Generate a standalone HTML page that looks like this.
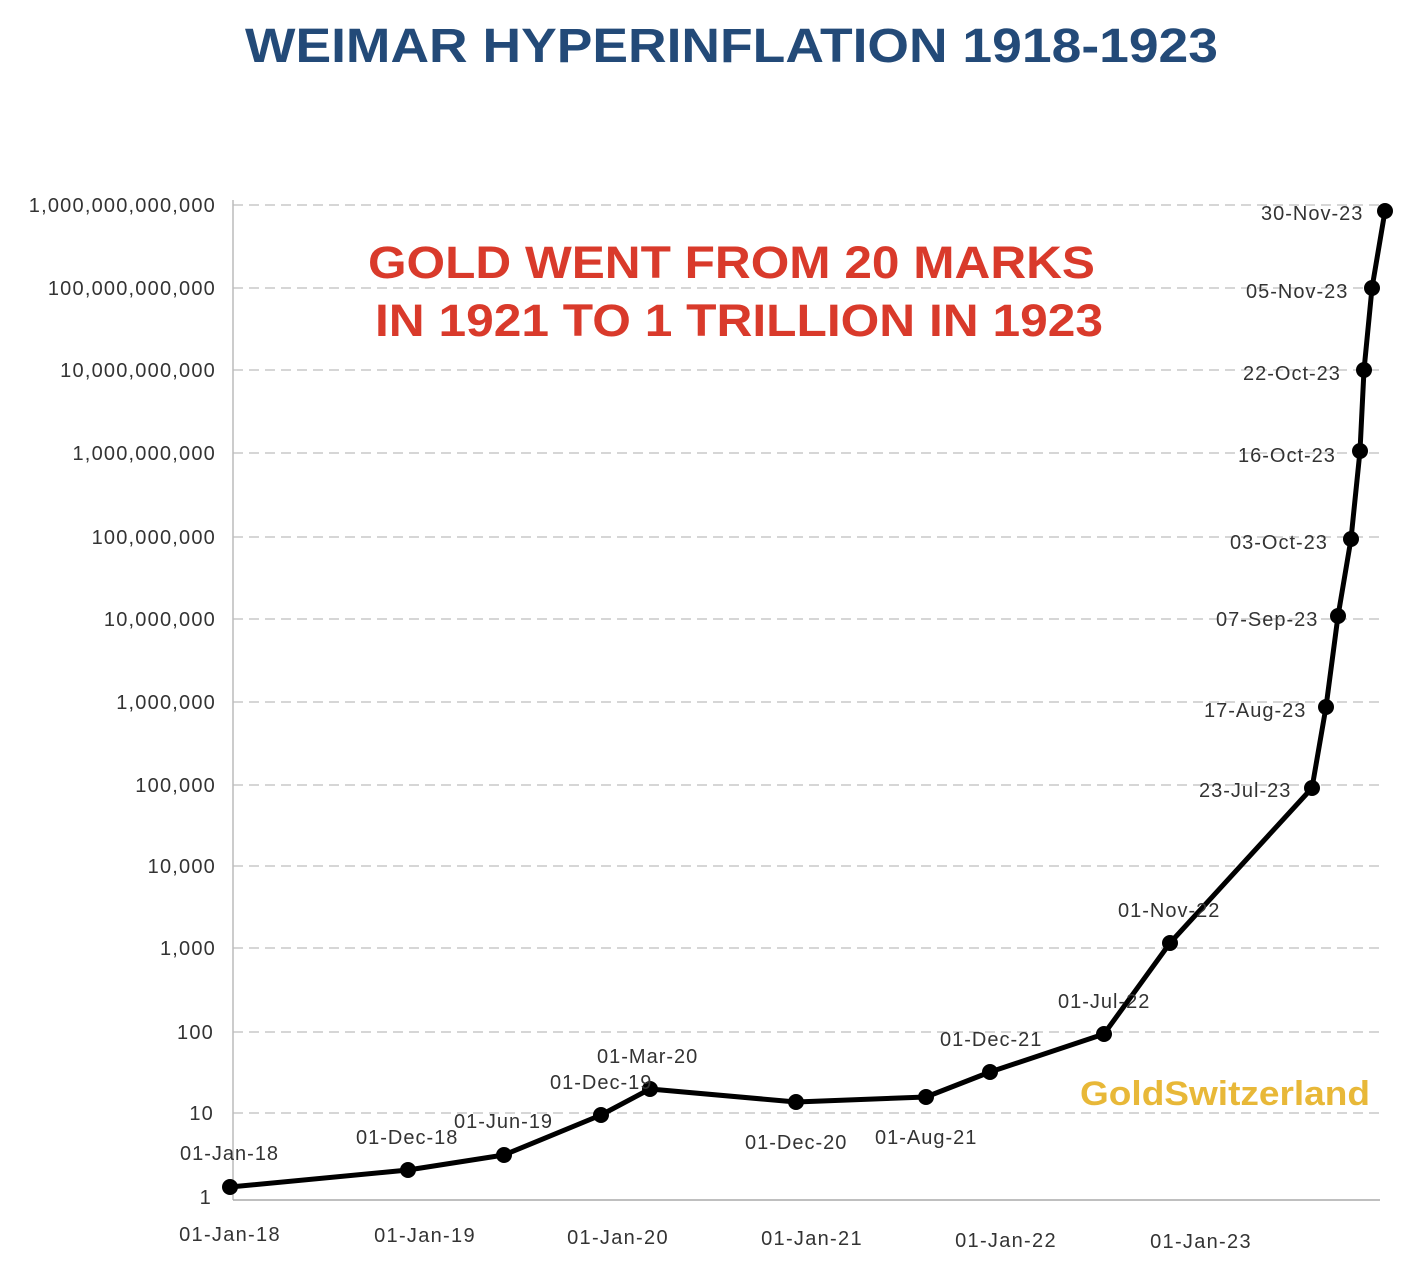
<!DOCTYPE html>
<html><head><meta charset="utf-8"><style>
html,body{margin:0;padding:0;background:#fff;}
svg{display:block;}
</style></head><body>
<svg width="1424" height="1278" viewBox="0 0 1424 1278" xmlns="http://www.w3.org/2000/svg">
<rect width="1424" height="1278" fill="#fff"/>
<text x="245" y="62" textLength="973" lengthAdjust="spacingAndGlyphs" font-family="Liberation Sans, sans-serif" font-weight="bold" font-size="48" fill="#234a78">WEIMAR HYPERINFLATION  1918-1923</text>
<g stroke="#c8c8c8" stroke-width="1.5" stroke-dasharray="10,6">
<line x1="233" y1="205" x2="1385" y2="205"/>
<line x1="233" y1="288" x2="1385" y2="288"/>
<line x1="233" y1="370" x2="1385" y2="370"/>
<line x1="233" y1="453" x2="1385" y2="453"/>
<line x1="233" y1="537" x2="1385" y2="537"/>
<line x1="233" y1="619" x2="1385" y2="619"/>
<line x1="233" y1="702" x2="1385" y2="702"/>
<line x1="233" y1="785" x2="1385" y2="785"/>
<line x1="233" y1="866" x2="1385" y2="866"/>
<line x1="233" y1="948" x2="1385" y2="948"/>
<line x1="233" y1="1032" x2="1385" y2="1032"/>
<line x1="233" y1="1113" x2="1385" y2="1113"/>
</g>
<line x1="233" y1="200" x2="233" y2="1200" stroke="#bbb" stroke-width="1.5"/>
<line x1="233" y1="1200" x2="1380" y2="1200" stroke="#aaa" stroke-width="1.5"/>
<g font-family="Liberation Sans, sans-serif" font-size="20" fill="#333" text-anchor="end" letter-spacing="1.2">
<text x="216" y="212">1,000,000,000,000</text>
<text x="216" y="295">100,000,000,000</text>
<text x="216" y="377">10,000,000,000</text>
<text x="216" y="460">1,000,000,000</text>
<text x="216" y="544">100,000,000</text>
<text x="216" y="626">10,000,000</text>
<text x="216" y="709">1,000,000</text>
<text x="216" y="792">100,000</text>
<text x="216" y="873">10,000</text>
<text x="216" y="955">1,000</text>
<text x="214" y="1039">100</text>
<text x="214" y="1120">10</text>
<text x="212" y="1204">1</text>
</g>
<g font-family="Liberation Sans, sans-serif" font-size="20" fill="#333" text-anchor="middle" letter-spacing="1.3">
<text x="230" y="1241">01-Jan-18</text>
<text x="425" y="1242">01-Jan-19</text>
<text x="618" y="1244">01-Jan-20</text>
<text x="812" y="1245">01-Jan-21</text>
<text x="1006" y="1247">01-Jan-22</text>
<text x="1201" y="1248">01-Jan-23</text>
</g>
<text x="368" y="278" textLength="727" lengthAdjust="spacingAndGlyphs" font-family="Liberation Sans, sans-serif" font-weight="bold" font-size="45" fill="#d93a2b">GOLD WENT FROM 20 MARKS</text>
<text x="375" y="336" textLength="728" lengthAdjust="spacingAndGlyphs" font-family="Liberation Sans, sans-serif" font-weight="bold" font-size="45" fill="#d93a2b">IN 1921 TO 1 TRILLION IN 1923</text>
<text x="1080" y="1105" textLength="290" lengthAdjust="spacingAndGlyphs" font-family="Liberation Sans, sans-serif" font-weight="bold" font-size="34" fill="#e8b838">GoldSwitzerland</text>
<polyline fill="none" stroke="#000" stroke-width="5" stroke-linejoin="round" points="230,1187 408,1170 504,1155 601,1115 650,1089 796,1102 926,1097 990,1072 1104,1034 1170,943 1312,788 1326,707 1338,616 1351,539 1360,451 1364,370 1372,288 1385,211"/>
<g fill="#000">
<circle cx="230" cy="1187" r="8"/><circle cx="408" cy="1170" r="8"/><circle cx="504" cy="1155" r="8"/><circle cx="601" cy="1115" r="8"/><circle cx="650" cy="1089" r="8"/><circle cx="796" cy="1102" r="8"/><circle cx="926" cy="1097" r="8"/><circle cx="990" cy="1072" r="8"/><circle cx="1104" cy="1034" r="8"/><circle cx="1170" cy="943" r="8"/><circle cx="1312" cy="788" r="8"/><circle cx="1326" cy="707" r="8"/><circle cx="1338" cy="616" r="8"/><circle cx="1351" cy="539" r="8"/><circle cx="1360" cy="451" r="8"/><circle cx="1364" cy="370" r="8"/><circle cx="1372" cy="288" r="8"/><circle cx="1385" cy="211" r="8"/>
</g>
<g font-family="Liberation Sans, sans-serif" font-size="20" fill="#333" letter-spacing="1">
<text x="180" y="1160">01-Jan-18</text>
<text x="356" y="1144">01-Dec-18</text>
<text x="454" y="1128">01-Jun-19</text>
<text x="550" y="1089">01-Dec-19</text>
<text x="597" y="1063">01-Mar-20</text>
<text x="745" y="1149">01-Dec-20</text>
<text x="875" y="1144">01-Aug-21</text>
<text x="940" y="1046">01-Dec-21</text>
<text x="1058" y="1008">01-Jul-22</text>
<text x="1118" y="917">01-Nov-22</text>
<text x="1199" y="797">23-Jul-23</text>
<text x="1204" y="717">17-Aug-23</text>
<text x="1216" y="626">07-Sep-23</text>
<text x="1230" y="549">03-Oct-23</text>
<text x="1238" y="462">16-Oct-23</text>
<text x="1243" y="380">22-Oct-23</text>
<text x="1246" y="298">05-Nov-23</text>
<text x="1261" y="220">30-Nov-23</text>
</g>
</svg>
</body></html>
